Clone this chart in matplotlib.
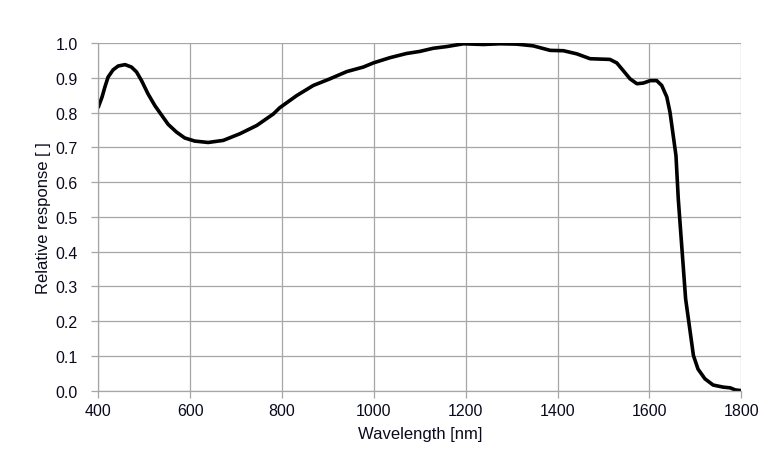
import matplotlib
matplotlib.use("Agg")
import matplotlib.pyplot as plt

plt.rcParams['font.family'] = ['Liberation Sans', 'DejaVu Sans']

# Спектральная чувствительность (отсчёты)
wavelength = [400, 401, 408, 414, 421, 432, 443, 458, 472, 483, 494, 508, 523, 538, 552,
              570, 588, 610, 639, 672, 708, 745, 781, 795, 832, 868, 904, 941, 977, 999,
              1035, 1071, 1100, 1129, 1159, 1195, 1238, 1275, 1311, 1347, 1384, 1413,
              1442, 1471, 1514, 1529, 1543, 1558, 1573, 1587, 1602, 1616, 1627, 1638,
              1645, 1652, 1658, 1663, 1671, 1679, 1688, 1696, 1706, 1721, 1739, 1761,
              1776, 1787, 1800]
response = [0.816, 0.820, 0.845, 0.873, 0.902, 0.923, 0.934, 0.938, 0.931, 0.917, 0.892,
            0.854, 0.820, 0.792, 0.766, 0.744, 0.727, 0.718, 0.714, 0.720, 0.739, 0.763,
            0.796, 0.814, 0.849, 0.878, 0.897, 0.918, 0.931, 0.943, 0.958, 0.970, 0.976,
            0.985, 0.990, 0.998, 0.996, 0.998, 0.997, 0.992, 0.979, 0.978, 0.969, 0.955,
            0.953, 0.943, 0.921, 0.897, 0.883, 0.885, 0.892, 0.892, 0.878, 0.845, 0.801,
            0.734, 0.676, 0.552, 0.408, 0.264, 0.178, 0.101, 0.062, 0.034, 0.016, 0.010,
            0.008, 0.002, 0.0]

xticks = [400, 600, 800, 1000, 1200, 1400, 1600, 1800]
yticks = [0.0, 0.1, 0.2, 0.3, 0.4, 0.5, 0.6, 0.7, 0.8, 0.9, 1.0]

fig = plt.figure(figsize=(7.81, 4.64), dpi=100)
ax = fig.add_axes([0.126, 0.156, 0.823, 0.749])

ax.plot(wavelength, response, color='black', linewidth=2.6,
        solid_capstyle='round', solid_joinstyle='round')

ax.set_xlim(400, 1800)
ax.set_ylim(0, 1.0)
ax.set_xticks(xticks)
ax.set_yticks(yticks)
ax.set_yticklabels([f'{v:.1f}' for v in yticks])
ax.grid(True, color='#a6a6a6', linewidth=0.9)
ax.set_axisbelow(True)

for s in ['top', 'right']:
    ax.spines[s].set_visible(False)
for s in ['left', 'bottom']:
    ax.spines[s].set_color('#a6a6a6')
    ax.spines[s].set_linewidth(0.9)
ax.tick_params(axis='both', colors='#a6a6a6', labelcolor='#0a0a1e', labelsize=11.5,
               length=5, width=0.9)
ax.tick_params(axis='y', pad=10)
ax.tick_params(axis='x', pad=4)

ax.set_xlabel('Wavelength [nm]', fontsize=12, color='#0a0a1e', labelpad=6)
ax.set_ylabel('Relative response [ ]', fontsize=12, color='#0a0a1e', labelpad=3)

fig.savefig('out.png', dpi=100)
